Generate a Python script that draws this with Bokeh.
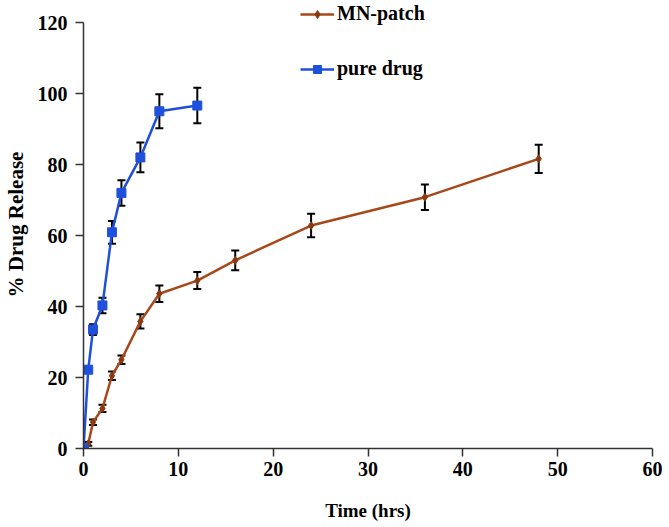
from bokeh.plotting import figure
from bokeh.models import (ColumnDataSource, Range1d, SingleIntervalTicker, Whisker,
                          TeeHead, Legend, LegendItem)
from bokeh.embed import file_html
from bokeh.resources import INLINE

# ---- data ----
time_mn = [0, 0.5, 1, 2, 3, 4, 6, 8, 12, 16, 24, 36, 48]
release_mn = [0, 1.3, 7.4, 11.3, 20.5, 25.0, 35.8, 43.6, 47.3, 53.0, 62.8, 70.8, 81.6]
err_mn = [0, 0.5, 0.8, 1.0, 1.2, 1.2, 2.0, 2.3, 2.4, 2.8, 3.3, 3.6, 4.0]

time_pd = [0, 0.5, 1, 2, 3, 4, 6, 8, 12]
release_pd = [0, 22.2, 33.5, 40.3, 60.9, 72.0, 82.0, 95.0, 96.6]
err_pd = [0, 0.8, 1.5, 2.2, 3.2, 3.6, 4.2, 4.8, 5.0]

label_mn = "MN-patch"
label_pd = "pure drug"
x_title = "Time (hrs)"
y_title = "% Drug Release"

FONT = "Liberation Serif"
BROWN = "#A8481A"
BROWN_MK = "#8A3A12"
BLUE = "#1F50DC"

src_mn = ColumnDataSource(dict(
    x=time_mn, y=release_mn,
    lo=[v - e for v, e in zip(release_mn, err_mn)],
    hi=[v + e for v, e in zip(release_mn, err_mn)]))
src_pd = ColumnDataSource(dict(
    x=time_pd, y=release_pd,
    lo=[v - e for v, e in zip(release_pd, err_pd)],
    hi=[v + e for v, e in zip(release_pd, err_pd)]))

W, H = 669, 527
p = figure(width=W, height=H, output_backend="svg", toolbar_location=None,
           x_range=Range1d(0, 60), y_range=Range1d(0, 126.2),
           min_border_left=81, min_border_right=17,
           min_border_top=0, min_border_bottom=79)
p.outline_line_color = None
p.xgrid.grid_line_color = None
p.ygrid.grid_line_color = None
p.background_fill_color = "white"
p.border_fill_color = "white"

# error bars
for src in (src_mn, src_pd):
    w = Whisker(source=src, base="x", upper="hi", lower="lo",
                line_color="black", line_width=2,
                upper_head=TeeHead(size=8, line_color="black", line_width=2),
                lower_head=TeeHead(size=8, line_color="black", line_width=2))
    p.add_layout(w)

l1 = p.line("x", "y", source=src_mn, line_color=BROWN, line_width=2.5)
s1 = p.scatter("x", "y", source=src_mn, marker="diamond", size=8,
               fill_color=BROWN_MK, line_color=BROWN_MK)
l2 = p.line("x", "y", source=src_pd, line_color=BLUE, line_width=2.5)
s2 = p.scatter("x", "y", source=src_pd, marker="square", size=9,
               fill_color=BLUE, line_color=BLUE)

# axes
for ax in (p.xaxis[0], p.yaxis[0]):
    ax.axis_line_color = "#333333"
    ax.axis_line_width = 1.5
    ax.major_tick_line_color = "#333333"
    ax.major_tick_line_width = 1.5
    ax.major_tick_out = 8
    ax.major_tick_in = 0
    ax.minor_tick_line_color = None
    ax.major_label_text_font = FONT
    ax.major_label_text_font_style = "bold"
    ax.major_label_text_font_size = "20px"
    ax.major_label_text_color = "black"
    ax.axis_label_text_font = FONT
    ax.axis_label_text_font_style = "bold"
    ax.axis_label_text_font_size = "19px"
    ax.axis_label_text_color = "black"

p.yaxis[0].axis_label_text_font_size = "21px"
p.yaxis[0].bounds = (0, 120)
p.xaxis[0].ticker = SingleIntervalTicker(interval=10)
p.yaxis[0].ticker = SingleIntervalTicker(interval=20)
p.xaxis[0].axis_label = x_title
p.yaxis[0].axis_label = y_title
p.xaxis[0].major_label_standoff = 5
p.xaxis[0].axis_label_standoff = 21
p.yaxis[0].major_label_standoff = 8
p.yaxis[0].axis_label_standoff = 7

legend = Legend(items=[LegendItem(label=label_mn, renderers=[l1, s1]),
                       LegendItem(label=label_pd, renderers=[l2, s2])],
                location=(217, 368), orientation="vertical",
                border_line_color=None, background_fill_alpha=0,
                padding=0, margin=0, spacing=32,
                glyph_width=34, glyph_height=20, label_standoff=3,
                label_text_font=FONT, label_text_font_style="bold",
                label_text_font_size="20px", label_text_color="black")
p.add_layout(legend, "center")

open("out.html", "w").write(file_html(p, INLINE))
